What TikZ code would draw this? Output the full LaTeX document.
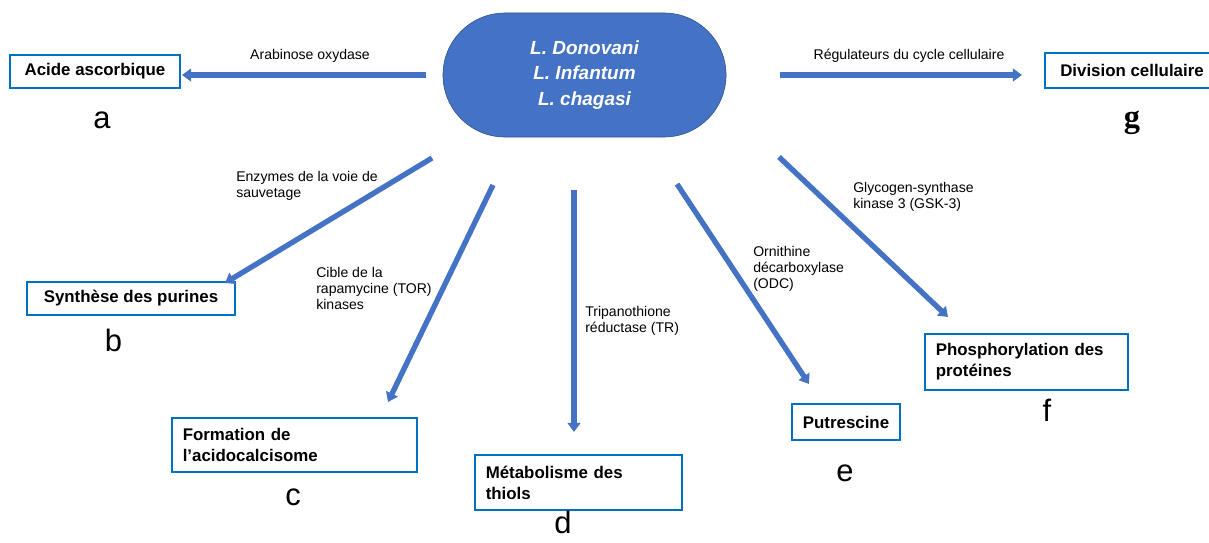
\documentclass[tikz,border=0pt]{standalone}
\usepackage{fontspec}
\setmainfont{Liberation Sans}
\newfontfamily\lettreserif{Liberation Serif}
\usepackage{xcolor}
\definecolor{leish}{RGB}{68,114,196}
\definecolor{leishdark}{RGB}{47,82,143}
\definecolor{cadre}{RGB}{0,112,192}
\usepackage{tikz}
\usetikzlibrary{arrows.meta,shapes.misc}

\begin{document}
\begin{tikzpicture}[x=0.025cm,y=-0.025cm,
  parasite/.style={rounded rectangle,fill=leish,draw=leishdark,thin,text=white,
    font=\bfseries\itshape\fontsize{13.5}{18}\selectfont,align=center,
    minimum width=7.075cm,minimum height=3.1cm,inner sep=0pt},
  cible/.style={draw=cadre,line width=1.4pt,fill=white,
    font=\bfseries\fontsize{12}{15}\selectfont,inner xsep=0.27cm,inner ysep=0pt},
  cible2/.style={cible,align=left,text width=#1},
  enzyme/.style={anchor=north west,align=left,font=\fontsize{10}{11.5}\selectfont,inner sep=0pt},
  lettre/.style={font=\fontsize{22}{22}\selectfont,inner sep=0pt},
  fleche/.style={leish,line width=3.8pt,-{Triangle[width=9pt,length=6.5pt]}}]
  \useasboundingbox (0,0) rectangle (1209,542);

  \node[parasite] (leish) at (584.5,75) {L. Donovani\\L. Infantum\\L. chagasi};

  % produits
  \node[cible,minimum width=4.25cm,minimum height=0.825cm] (acide) at (95,71.5) {Acide ascorbique};
  \node[cible,minimum width=5.2cm,minimum height=0.825cm] (purines) at (131,298.5) {Synthèse des purines};
  \node[cible2=5.585cm,minimum height=1.35cm] (acidocalc) at (294.5,445) {Formation de\\l’acidocalcisome};
  \node[cible2=4.635cm,minimum height=1.375cm] (thiols) at (578.5,482.5) {Métabolisme des\\thiols};
  \node[cible,minimum width=2.55cm,minimum height=0.9cm] (putresc) at (846,422) {Putrescine};
  \node[cible2=4.535cm,minimum height=1.4cm] (phospho) at (1026.5,362) {Phosphorylation des\\protéines};
  \node[cible,minimum width=4.35cm,minimum height=0.875cm] (division) at (1132,70.5) {Division cellulaire};

  \node[lettre] (la) at (102,120) {a};
  \node[lettre] (lb) at (113.5,340) {b};
  \node[lettre] (lc) at (293,497) {c};
  \node[lettre] (ld) at (563,522) {d};
  \node[lettre] (le) at (845,473) {e};
  \node[lettre] (lf) at (1047,410) {f};
  \node[lettre,font=\lettreserif\bfseries\fontsize{23}{23}\selectfont] (lg) at (1132,123) {g};

  % enzymes
  \node[enzyme,anchor=center] (arab) at (310,56) {Arabinose oxydase};
  \node[enzyme,anchor=center] (regul) at (909,56) {Régulateurs du cycle cellulaire};
  \node[enzyme] (sauv) at (236,171) {Enzymes de la voie de\\sauvetage};
  \node[enzyme] (tor) at (316,267) {Cible de la\\rapamycine (TOR)\\kinases};
  \node[enzyme] (tr) at (585,306) {Tripanothione\\réductase (TR)};
  \node[enzyme] (odc) at (753,246) {Ornithine\\décarboxylase\\(ODC)};
  \node[enzyme] (gsk) at (853,182) {Glycogen-synthase\\kinase 3 (GSK-3)};

  \coordinate (a0) at (426,75);   \coordinate (a1) at (182,75);
  \coordinate (g0) at (780,75);   \coordinate (g1) at (1022,75);
  \coordinate (b0) at (432,158);  \coordinate (b1) at (225,283);
  \coordinate (c0) at (493,185);  \coordinate (c1) at (388,402);
  \coordinate (d0) at (574,190);  \coordinate (d1) at (574,432);
  \coordinate (e0) at (677,184);  \coordinate (e1) at (809,384);
  \coordinate (f0) at (779,157);  \coordinate (f1) at (948,317);

  \draw[fleche] (a0) -- (a1);
  \draw[fleche] (g0) -- (g1);
  \draw[fleche] (b0) -- (b1);
  \draw[fleche] (c0) -- (c1);
  \draw[fleche] (d0) -- (d1);
  \draw[fleche] (e0) -- (e1);
  \draw[fleche] (f0) -- (f1);
\end{tikzpicture}
\end{document}
